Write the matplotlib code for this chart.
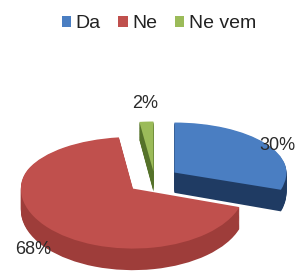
import matplotlib
matplotlib.use("Agg")
import matplotlib.pyplot as plt
import numpy as np
from matplotlib.patches import Patch

plt.rcParams['font.family'] = ['Liberation Sans', 'DejaVu Sans']

labels = ["Da", "Ne", "Ne vem"]
values = [30, 68, 2]
pct_text = ["30%", "68%", "2%"]
explode = [0.22, 0.25, 0.15]

top_colors = ["#4A7EC2", "#C0504D", "#9BBB59"]
side_colors = ["#1F3B63", "#9E3D3A", "#55722A"]

FRONT = 1.2  # front half of the pie looks bigger (perspective)


def fwd(y):
    y = np.asarray(y, dtype=float)
    return np.where(y < 0, y * FRONT, y)


def inv(y):
    y = np.asarray(y, dtype=float)
    return np.where(y < 0, y / FRONT, y)


fig = plt.figure(figsize=(3.01, 2.72), dpi=100)
ax = fig.add_axes([0, 0, 1, 1])

# fake 3d: stack darker copies downwards, then the top face
depth = 0.36
n_layers = 24
for k in range(n_layers, 0, -1):
    ax.pie(values, explode=explode, startangle=90, counterclock=False,
           colors=side_colors, center=(0, -depth * k / n_layers),
           wedgeprops=dict(linewidth=0))
wedges, _ = ax.pie(values, explode=explode, startangle=90, counterclock=False,
                   colors=top_colors, center=(0, 0),
                   wedgeprops=dict(linewidth=0))

ax.set_aspect('auto')
ax.set_yscale('function', functions=(fwd, inv))
ax.set_xlim(-1.379, 1.308)
ax.set_ylim(-1.86 / FRONT, 3.58)
ax.axis('off')

# percentage labels
label_pos = [(1.10, 0.66), (-1.085, -1.42 / FRONT), (-0.085, 1.52)]
for txt, (x, y) in zip(pct_text, label_pos):
    ax.text(x, y, txt, ha='center', va='center', fontsize=13, color='#2a2a2a')

handles = [Patch(facecolor=c, edgecolor='none') for c in top_colors]
fig.legend(handles, labels, loc='center', bbox_to_anchor=(159 / 301, 1 - 24 / 272),
           ncol=3, frameon=False, fontsize=14, handlelength=0.48, handleheight=0.48,
           handletextpad=0.25, columnspacing=0.9, labelcolor='#222222')

fig.savefig("out.png", dpi=100)
